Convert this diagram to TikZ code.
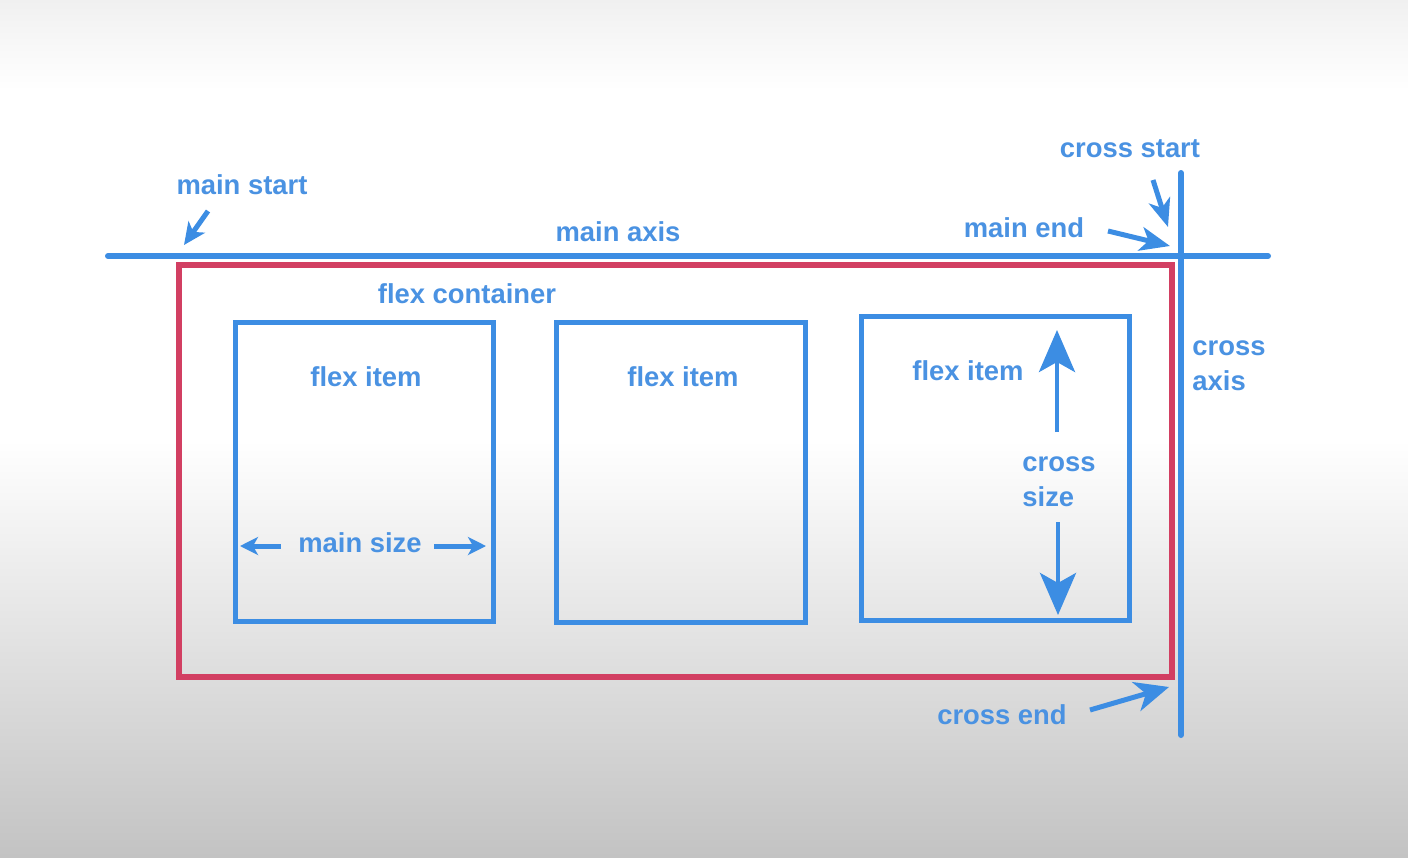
\documentclass[tikz,border=0pt]{standalone}
\usepackage{fontspec}
\setsansfont{Liberation Sans}
\usetikzlibrary{arrows.meta, positioning}
\definecolor{flexblue}{HTML}{3C8DE3}
\definecolor{textblue}{HTML}{4A92E2}
\definecolor{boxred}{HTML}{D23F62}
\definecolor{bgtop}{HTML}{F0F0F0}
\definecolor{bggray}{HTML}{C3C3C3}

\begin{document}
\begin{tikzpicture}[
  x=0.5pt, y=-0.5pt,
  lbl/.style={font=\sffamily\bfseries\fontsize{13.7}{17.5}\selectfont, text=textblue, inner sep=0pt},
  itembox/.style={draw=flexblue, line width=2.5pt, inner sep=0pt},
  axisline/.style={flexblue, line width=3pt, line cap=round},
  fat/.style={-{Stealth[length=15pt, width=12pt, inset=4pt]}, flexblue, line width=2.5pt},
  thin/.style={-{Stealth[length=9pt, width=9pt, inset=2.5pt]}, flexblue, line width=2.5pt},
  tall/.style={-{Stealth[length=21pt, width=18pt, inset=5pt]}, flexblue, line width=2.2pt},
]
\useasboundingbox (0,0) rectangle (1408,857);

% Background
\fill[white] (0,0) rectangle (1408,857);
\shade[top color=bgtop, bottom color=white] (0,0) rectangle (1408,90);
\shade[top color=white, bottom color=bggray] (0,440) rectangle (1408,857);

% ========================================
% Axes
% ========================================
\coordinate (axis-w) at (108,256);
\coordinate (axis-e) at (1268,256);
\coordinate (cross-n) at (1181,173);
\coordinate (cross-s) at (1181,735);

% Flex container
\node[draw=boxred, line width=2.6pt, inner sep=0pt,
  minimum width=496.5pt, minimum height=206pt] (container) at (675.5,471) {};

\draw[axisline] (axis-w) -- (axis-e);
\draw[axisline] (cross-n) -- (cross-s);

\node[lbl] (mainaxis) at (618,232) {main axis};
\node[lbl, align=left, anchor=base west] (crossaxis) at (1192,390) {cross\\axis};
\node[lbl] (flexcont) at (467,294) {flex container};

% ========================================
% Flex items
% ========================================
\node[itembox, minimum width=129pt, minimum height=149.5pt] (item1) at (364,471.5) {};
\node[itembox, minimum width=124.5pt, minimum height=150pt] (item2) at (680.5,472) {};
\node[itembox, minimum width=134pt, minimum height=152pt] (item3) at (995,468) {};

\node[lbl] (label1) at (366,377) {flex item};
\node[lbl] (label2) at (683,377) {flex item};
\node[lbl] (label3) at (968,371) {flex item};

% Main size
\node[lbl] (mainsize) at (360,543) {main size};
\coordinate (msz-l) at (240,546);
\coordinate (msz-r) at (486,546);
\draw[thin] (mainsize.west) ++(-17,3) -- (msz-l);
\draw[thin] (mainsize.east) ++(12,3) -- (msz-r);

% Cross size
\node[lbl, align=left, anchor=base west] (crosssize) at (1022,506) {cross\\size};
\coordinate (csz-t) at (1057,330);
\coordinate (csz-b) at (1058,615);
\draw[tall] (1057,432) -- (csz-t);
\draw[tall] (1058,522) -- (csz-b);

% ========================================
% Start / end labels
% ========================================
\node[lbl] (mainstart) at (242,185) {main start};
\coordinate (ms-tip) at (184,245);
\draw[fat, -{Stealth[length=11pt, width=10pt, inset=3pt]}] (208,211) -- (ms-tip);

\node[lbl] (mainend) at (1024,228) {main end};
\coordinate (me-tip) at (1170,246);
\draw[fat] (1108,231) -- (me-tip);

\node[lbl] (crossstart) at (1130,149) {cross start};
\coordinate (cs-tip) at (1168,227);
\draw[fat, -{Stealth[length=14pt, width=11pt, inset=4pt]}] (1153,180) -- (cs-tip);

\node[lbl] (crossend) at (1002,715) {cross end};
\coordinate (ce-tip) at (1169,687);
\draw[fat, -{Stealth[length=17pt, width=15pt, inset=5pt]}] (1090,710) -- (ce-tip);

\end{tikzpicture}
\end{document}
